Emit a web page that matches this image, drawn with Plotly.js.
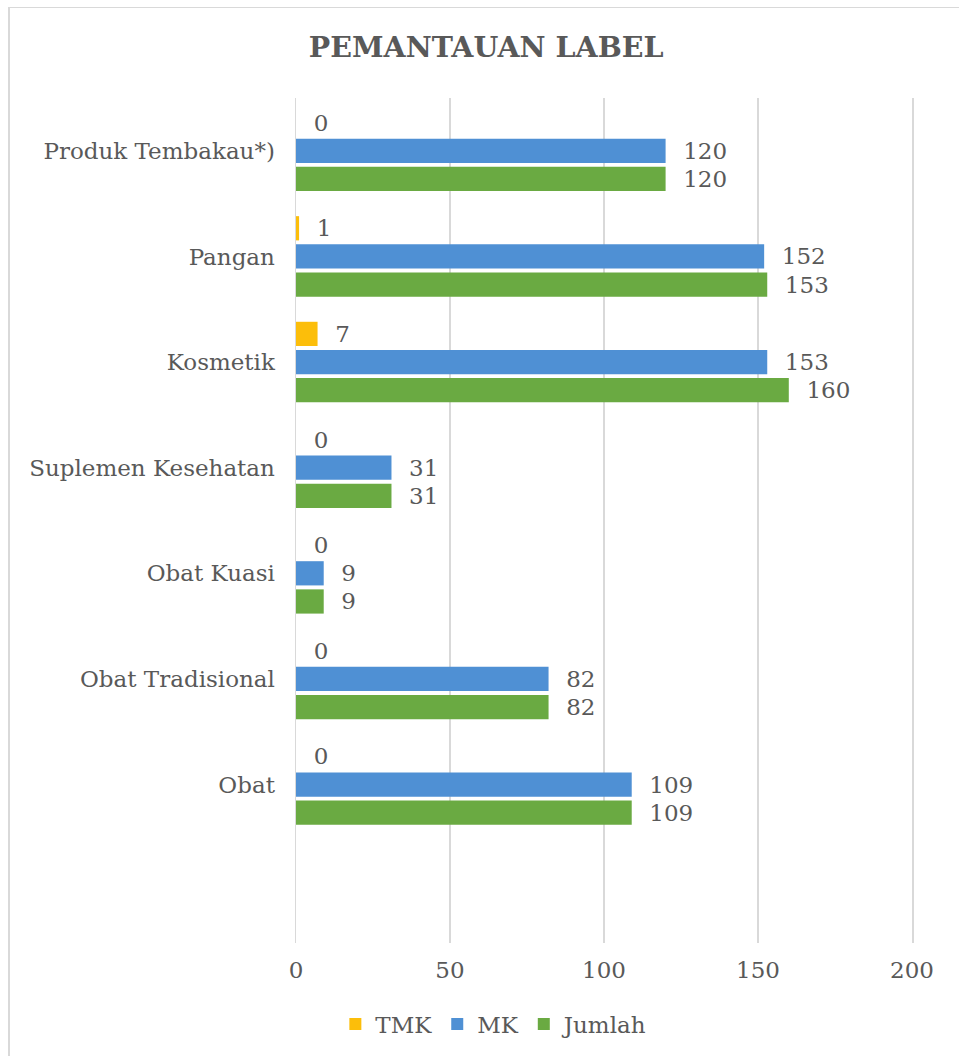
<!DOCTYPE html>
<html>
<head>
<meta charset="utf-8">
<script src="https://cdn.plot.ly/plotly-3.0.1.min.js"></script>
<style>
  html, body { margin: 0; padding: 0; background: #ffffff; }
  #wrap { position: relative; width: 959px; height: 1056px; overflow: hidden; }
  #chart { position: absolute; left: 0; top: 0; width: 959px; height: 1056px; }
  #frame { position: absolute; left: 8px; top: 7px; width: 960px; height: 1060px;
           border-top: 1px solid #d9d9d9; border-left: 2px solid #d9d9d9; pointer-events: none; }
</style>
</head>
<body>
<div id="wrap">
  <div id="chart"></div>
  <div id="frame"></div>
</div>
<script>
// Data (bottom to top as drawn)
const categories = ["Obat", "Obat Tradisional", "Obat Kuasi", "Suplemen Kesehatan", "Kosmetik", "Pangan", "Produk Tembakau*)"];
const tmk    = [0, 0, 0, 0, 7, 1, 0];
const mk     = [109, 82, 9, 31, 153, 152, 120];
const jumlah = [109, 82, 9, 31, 160, 153, 120];
const xTicks = [0, 50, 100, 150, 200];

const FONT = "DejaVu Serif, serif";
const TXT = "#595959";
const FS = 23;

function barTrace(name, values, color) {
  return {
    type: "bar",
    orientation: "h",
    name: name,
    y: categories,
    x: values,
    marker: { color: color },
    text: values.map(v => "\u00a0\u00a0" + v),
    textposition: "outside",
    constraintext: "none",
    cliponaxis: false,
    textfont: { family: FONT, size: FS, color: TXT },
    hoverinfo: "x+name"
  };
}

const data = [
  barTrace("Jumlah", jumlah, "#6aaa42"),
  barTrace("MK", mk, "#4f90d4"),
  barTrace("TMK", tmk, "#fcbe0a")
];

const layout = {
  width: 959,
  height: 1056,
  paper_bgcolor: "#ffffff",
  plot_bgcolor: "#ffffff",
  margin: { l: 296, r: 47, t: 98, b: 112 },
  title: {
    text: "<b>PEMANTAUAN LABEL</b>",
    font: { family: FONT, size: 28.5, color: TXT },
    xref: "container", x: 0.507, xanchor: "center",
    yref: "container", y: 1 - 47 / 1056, yanchor: "middle"
  },
  barmode: "group",
  bargap: 0.2,
  bargroupgap: 0.14,
  xaxis: {
    range: [0, 200],
    tickvals: xTicks,
    ticktext: xTicks.map(String),
    showgrid: true,
    gridcolor: "#d9d9d9",
    gridwidth: 1.5,
    zeroline: false,
    showline: false,
    ticks: "",
    ticklabelstandoff: 11,
    tickfont: { family: FONT, size: FS, color: TXT },
    fixedrange: true
  },
  yaxis: {
    type: "category",
    categoryorder: "array",
    categoryarray: categories,
    range: [-1.5, 6.5],
    showgrid: false,
    zeroline: false,
    showline: true,
    mirror: true,
    linecolor: "#d9d9d9",
    linewidth: 1.5,
    ticks: "",
    ticklabelstandoff: 15,
    tickfont: { family: FONT, size: FS, color: TXT },
    fixedrange: true
  },
  showlegend: true,
  legend: {
    orientation: "h",
    traceorder: "reversed",
    x: 0.322, xanchor: "center",
    y: -80 / 846, yanchor: "middle",
    font: { family: FONT, size: FS, color: TXT },
    itemwidth: 30
  }
};

Plotly.newPlot("chart", data, layout, { displayModeBar: false, staticPlot: true });
</script>
</body>
</html>
